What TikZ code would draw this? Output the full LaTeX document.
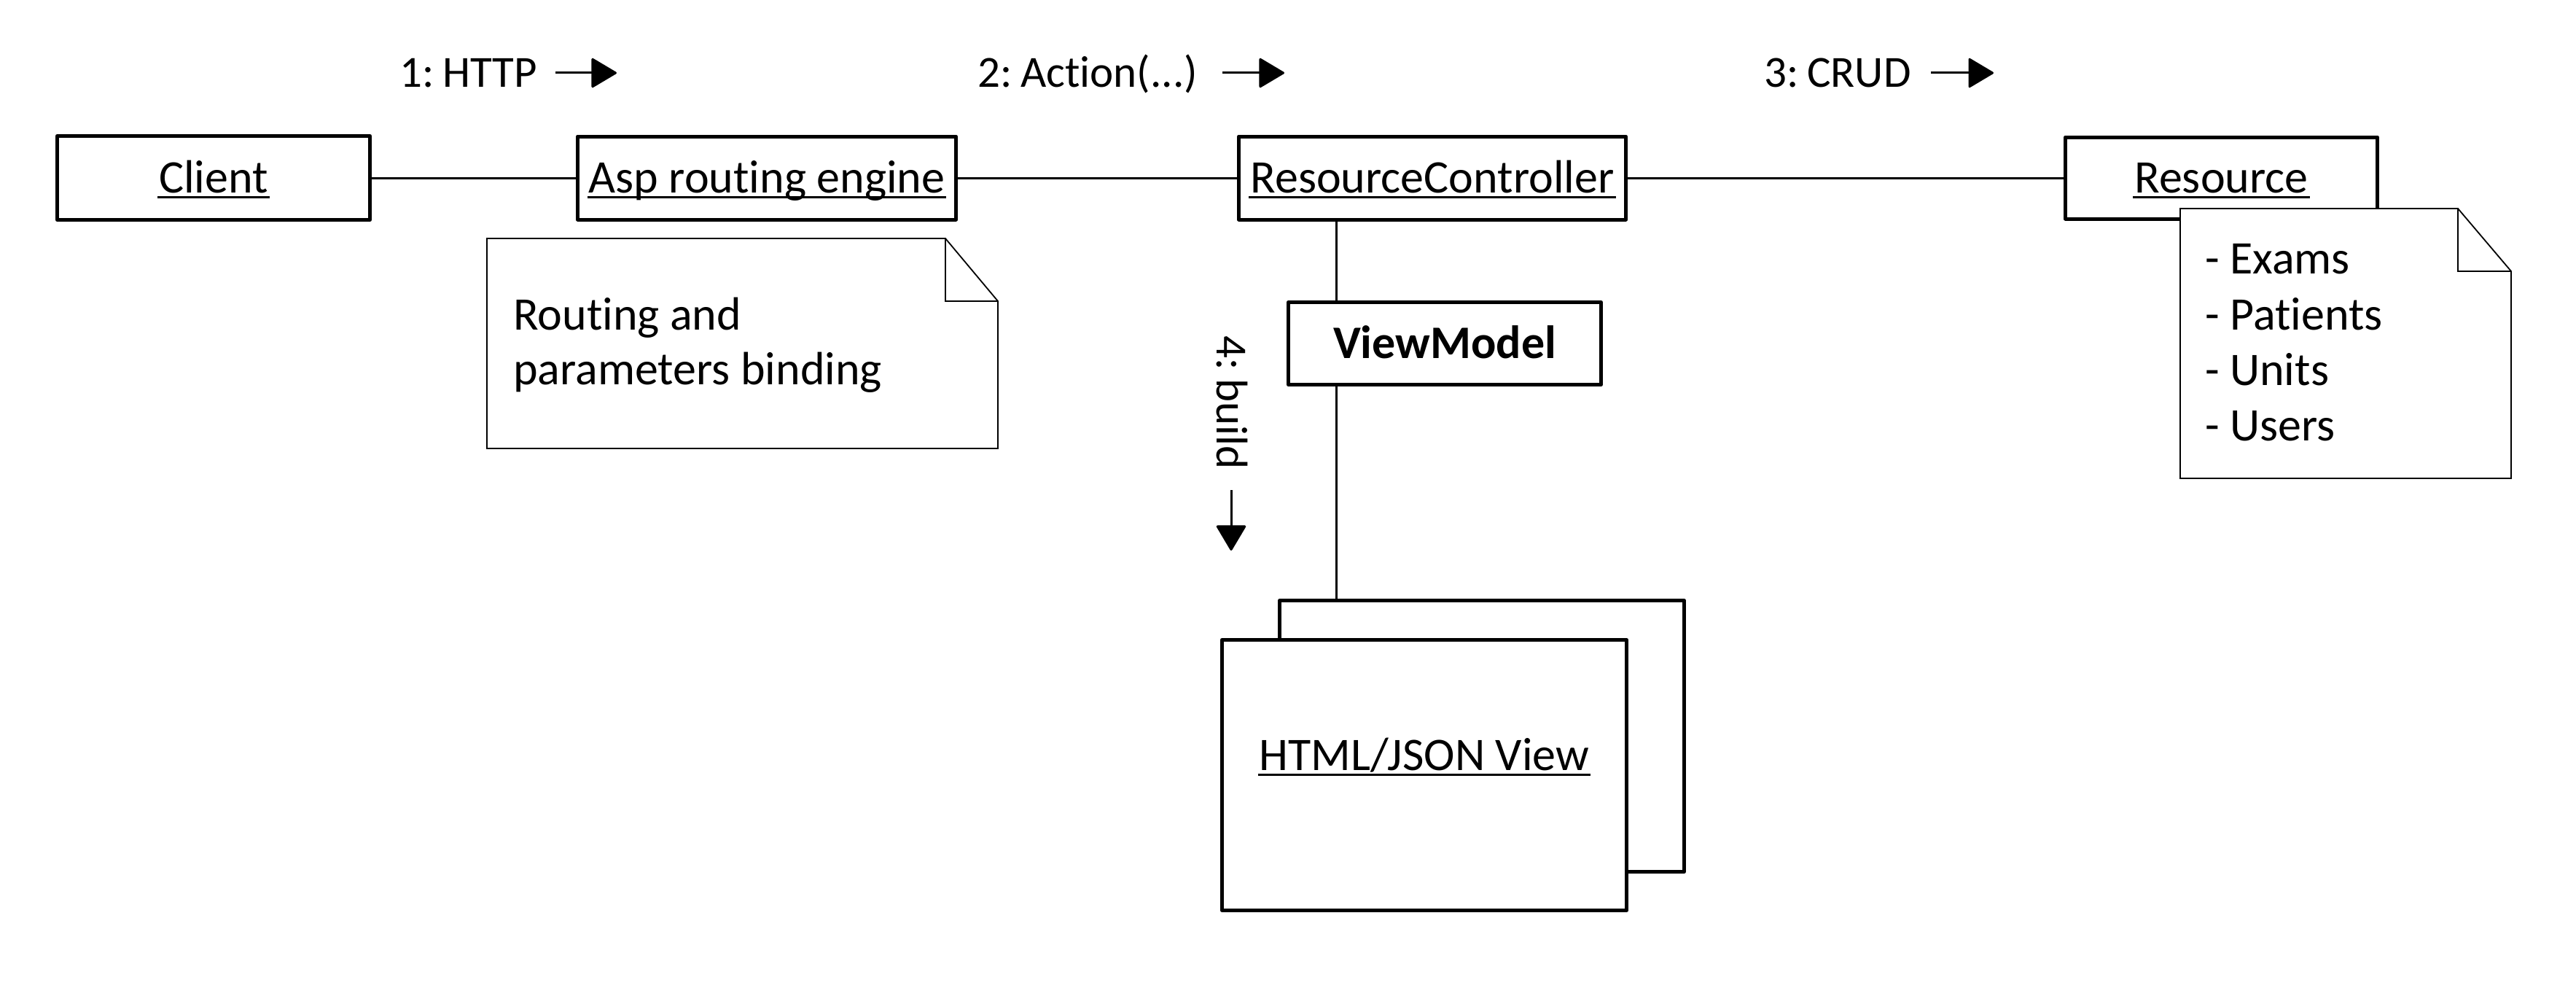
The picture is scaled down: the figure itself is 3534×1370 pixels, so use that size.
\documentclass[tikz,border=0pt]{standalone}
\usepackage{fontspec}
\setmainfont{Carlito}[Ligatures=NoCommon]
\usetikzlibrary{arrows.meta}
\newsavebox\ulbox
\newcommand\ulin[1]{\sbox\ulbox{#1}\rlap{\kern-2pt\rule[-7.5pt]{\dimexpr\wd\ulbox+4pt\relax}{3pt}}\usebox\ulbox}
\begin{document}
\begin{tikzpicture}[x=1pt,y=-1pt,
  font=\fontsize{64}{76}\selectfont,
  obj/.style={draw, line width=5pt, line join=round, fill=white, inner sep=0pt, text height=41pt, text depth=0pt},
  conn/.style={line width=3pt},
  notebox/.style={draw, line width=1.8pt, fill=white},
  txt/.style={inner sep=0pt, anchor=base west},
  msgtxt/.style={txt, font=\fontsize{61}{73}\selectfont},
  msg/.style={line width=3pt, -{Triangle[length=36pt,width=42pt,round]}}]
\useasboundingbox[fill=white] (0,0) rectangle (3534,1370);

% objects
\node[obj, minimum width=429pt, minimum height=115pt] (client) at (293,244) {\ulin{Client}};
\node[obj, minimum width=519pt, minimum height=114pt] (asp) at (1052,244) {\ulin{Asp routing engine}};
\node[obj, minimum width=531pt, minimum height=114pt] (rc) at (1965,244) {\ulin{ResourceController}};
\node[obj, minimum width=428pt, minimum height=112pt] (res) at (3047.5,244) {\ulin{Resource}};
\node[obj, minimum width=429pt, minimum height=113pt] (vm) at (1982,471) {\textbf{ViewModel}};
\node[obj, minimum width=555pt, minimum height=372pt] (back) at (2033,1009.5) {};
\node[obj, minimum width=555pt, minimum height=371pt] (front) at (1954,1063) {};
\node[inner sep=0pt, anchor=base] (viewlbl) at (1954,1056) {\ulin{HTML/JSON View}};

% connectors
\coordinate (vx) at (1833,0);
\draw[conn] (client) -- (asp);
\draw[conn] (asp) -- (rc);
\draw[conn] (rc) -- (res);
\draw[conn] (rc.south -| vx) -- (vm.north -| vx);
\draw[conn] (vm.south -| vx) -- (back.north -| vx);

% notes
\draw[notebox] (668,327) -- (1297,327) -- (1369,413) -- (1369,615) -- (668,615) -- cycle;
\draw[line width=1.8pt] (1297,327) -- (1297,413) -- (1369,413);
\node[txt] (n1a) at (704,452) {Routing and};
\node[txt] (n1b) at (704,527) {parameters binding};

\draw[notebox] (2991,286) -- (3372,286) -- (3445,372) -- (3445,656) -- (2991,656) -- cycle;
\draw[line width=1.8pt] (3372,286) -- (3372,372) -- (3445,372);
\node[txt] (n2a) at (3025,375) {- Exams};
\node[txt] (n2b) at (3025,452) {- Patients};
\node[txt] (n2c) at (3025,528) {- Units};
\node[txt] (n2d) at (3025,604) {- Users};

% messages
\node[msgtxt] (m1) at (548,120) {1:\kern-2pt\ HTTP};
\coordinate (m1s) at (762,100); \coordinate (m1e) at (846,100);
\draw[msg] (m1s) -- (m1e);
\node[msgtxt] (m2) at (1341,120) {2:\kern-2pt\ Action(...)};
\coordinate (m2s) at (1677,100); \coordinate (m2e) at (1762,100);
\draw[msg] (m2s) -- (m2e);
\node[msgtxt] (m3) at (2420,120) {3:\kern-2pt\ CRUD};
\coordinate (m3s) at (2649,100); \coordinate (m3e) at (2735,100);
\draw[msg] (m3s) -- (m3e);
\node[msgtxt, rotate=-90] (m4) at (1669,460) {4:\kern-2pt\ build};
\coordinate (m4s) at (1689,672); \coordinate (m4e) at (1689,755);
\draw[msg] (m4s) -- (m4e);
\end{tikzpicture}
\end{document}
